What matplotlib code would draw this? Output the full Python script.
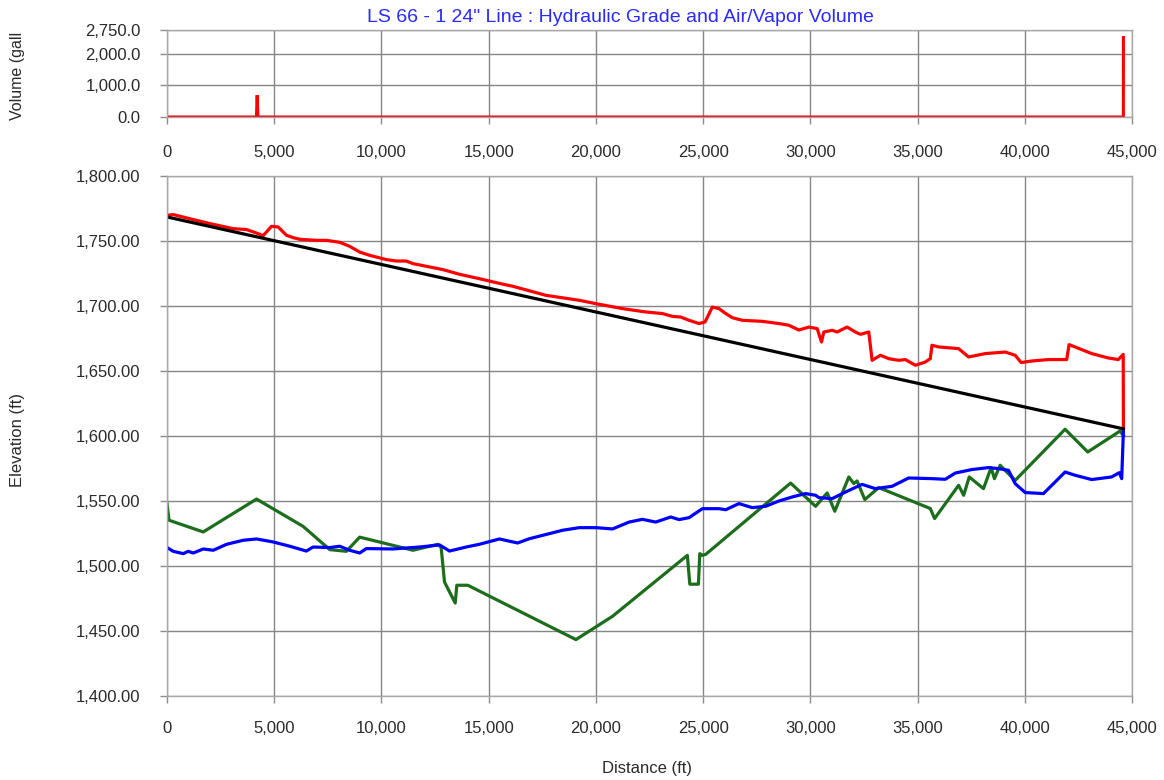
import matplotlib
matplotlib.use("Agg")
import matplotlib.pyplot as plt
from matplotlib.ticker import FuncFormatter

plt.rcParams['font.family'] = ['Liberation Sans', 'DejaVu Sans']

# Air/vapor volume along the pipe (gal)
vol_dist = [0, 4170, 4205, 4240, 44598, 44600]
vol_gal = [0, 0, 690, 0, 0, 2513]

# Maximum hydraulic grade (ft)
max_dist = [0, 295, 1224, 2002, 3086, 3710, 4329, 4480, 4873, 5183, 5572, 5880, 6191,
            6968, 7434, 8053, 8519, 8984, 9450, 10227, 10692, 11158, 11468, 12864, 13640,
            14570, 15470, 16120, 17675, 19225, 20000, 21240, 22330, 23100, 23570, 23960,
            24345, 24810, 25090, 25430, 25740, 26055, 26360, 26830, 27760, 28535, 29000,
            29465, 29930, 30320, 30520, 30630, 31015, 31250, 31715, 32100, 32340, 32725,
            32880, 33270, 33655, 34120, 34430, 34900, 35360, 35595, 35670, 35985, 36915,
            37380, 38160, 39090, 39555, 39830, 40330, 41100, 41955, 42065, 42345, 43120,
            43900, 44360, 44590, 44600]
max_hgl = [1769.8, 1770.3, 1766.5, 1763.4, 1759.5, 1758.8, 1755.2, 1754.0, 1761.3, 1760.8,
           1754.4, 1752.6, 1751.3, 1750.5, 1750.5, 1749.0, 1745.9, 1741.5, 1739.0, 1735.7,
           1734.6, 1734.6, 1732.6, 1728.0, 1724.4, 1721.0, 1717.5, 1715.2, 1708.2, 1704.4,
           1701.8, 1698.0, 1695.4, 1694.2, 1692.0, 1691.5, 1689.0, 1686.5, 1687.7, 1699.2,
           1698.0, 1694.2, 1691.0, 1689.0, 1688.2, 1686.5, 1685.2, 1681.5, 1683.8, 1682.6,
           1672.3, 1680.0, 1681.3, 1680.0, 1683.8, 1680.0, 1678.2, 1680.0, 1658.2, 1662.1,
           1659.5, 1658.2, 1658.8, 1654.4, 1656.9, 1659.5, 1669.8, 1668.5, 1667.2, 1660.8,
           1663.4, 1664.6, 1662.1, 1656.5, 1657.7, 1658.8, 1658.8, 1670.3, 1668.5, 1663.4,
           1660.0, 1658.8, 1662.8, 1605.5]

# Minimum hydraulic grade (ft)
min_dist = [0, 290, 760, 990, 1225, 1690, 2155, 2780, 3555, 4175, 4950, 5725, 6500, 6810,
            7590, 8050, 8520, 8985, 9295, 10535, 11775, 12710, 13175, 13950, 14570, 15500,
            16350, 16900, 18450, 19225, 20000, 20775, 21550, 22170, 22790, 23490, 23880,
            24345, 24965, 25740, 26055, 26670, 27290, 27910, 28535, 29155, 29775, 30245,
            30400, 31015, 31640, 32410, 33035, 33810, 34585, 35670, 36290, 36760, 37535,
            38310, 38775, 39240, 39555, 40020, 40870, 41415, 41880, 42345, 43120, 44050,
            44410, 44520, 44600]
min_hgl = [1514.2, 1511.3, 1509.5, 1511.3, 1510.0, 1513.1, 1512.1, 1516.7, 1519.8, 1520.8,
           1518.5, 1515.2, 1511.5, 1514.6, 1514.2, 1515.2, 1512.1, 1510.0, 1513.4, 1513.1,
           1514.6, 1516.2, 1511.5, 1514.6, 1516.7, 1520.8, 1517.7, 1521.0, 1527.5, 1529.5,
           1529.5, 1528.5, 1533.8, 1535.9, 1533.8, 1537.7, 1535.7, 1537.2, 1544.1, 1544.1,
           1543.3, 1548.0, 1544.9, 1545.9, 1550.0, 1553.1, 1555.7, 1554.4, 1552.6, 1551.8,
           1556.9, 1562.8, 1559.5, 1561.3, 1567.7, 1567.2, 1566.7, 1571.5, 1574.2, 1575.7,
           1574.9, 1573.6, 1563.3, 1556.5, 1555.7, 1564.6, 1572.3, 1569.8, 1566.5, 1568.5,
           1571.8, 1567.2, 1604.4]

# Pipe profile elevation (ft)
elev_dist = [0, 95, 1690, 4175, 6345, 7590, 8365, 8985, 11470, 12630, 12785, 12940, 13440,
             13515, 14025, 19070, 20775, 24265, 24380, 24780, 24845, 24970, 25125, 29080,
             30245, 30785, 31140, 31795, 32025, 32180, 32540, 33190, 35595, 35795, 36915,
             37150, 37410, 38075, 38430, 38585, 38850, 39160, 39555, 41880, 42935, 44440,
             44600]
elevation = [1548.0, 1535.2, 1526.2, 1551.5, 1530.5, 1512.6, 1511.3, 1522.2, 1512.1, 1516.7,
             1514.2, 1487.7, 1471.5, 1485.2, 1485.2, 1443.4, 1461.3, 1508.2, 1486.0, 1486.0,
             1509.5, 1508.2, 1509.0, 1563.8, 1545.9, 1556.2, 1542.1, 1568.5, 1563.4, 1565.4,
             1551.1, 1560.3, 1544.2, 1536.5, 1562.1, 1554.4, 1568.5, 1559.5, 1575.7, 1567.2,
             1577.5, 1572.3, 1565.9, 1605.2, 1587.7, 1603.8, 1600.3]

# Steady-state hydraulic grade (ft)
steady_dist = [0, 44600]
steady_hgl = [1768.5, 1605.5]

vol_ticks = [0, 1000, 2000, 2750]
elev_ticks = [1400, 1450, 1500, 1550, 1600, 1650, 1700, 1750, 1800]
dist_ticks = list(range(0, 45001, 5000))

W, H = 1164, 780
fig = plt.figure(figsize=(W / 100, H / 100), dpi=100)

def frac(left, top, right, bottom):
    return [left / W, 1 - bottom / H, (right - left) / W, (bottom - top) / H]

ax_v = fig.add_axes(frac(167, 30, 1132, 117))
ax_e = fig.add_axes(frac(167, 176, 1132, 696))

grid_kw = dict(color='#858585', linewidth=1.0)
tick_font = 12
lab_color = '#2a2a2a'

for ax in (ax_v, ax_e):
    ax.set_xlim(0, 45000)
    ax.set_xticks(dist_ticks)
    ax.xaxis.set_major_formatter(FuncFormatter(lambda v, p: f"{int(v):,}"))
    ax.grid(True, **grid_kw)
    ax.set_axisbelow(True)
    for s in ax.spines.values():
        s.set_color('#a8a8a8')
        s.set_linewidth(1.0)
    ax.tick_params(axis='both', labelsize=tick_font, colors='#8c8c8c',
                   labelcolor=lab_color, length=5, width=1, direction='out')

ax_v.set_ylim(0, 2750)
ax_v.set_yticks(vol_ticks)
ax_v.yaxis.set_major_formatter(FuncFormatter(lambda v, p: f"{v:,.1f}"))
ax_v.tick_params(axis='x', pad=15)
ax_v.tick_params(axis='y', pad=14)
ax_v.plot(vol_dist, vol_gal, color='#ff0000', linewidth=2.2, solid_joinstyle='miter')

ax_e.set_ylim(1400, 1800)
ax_e.set_yticks(elev_ticks)
ax_e.yaxis.set_major_formatter(FuncFormatter(lambda v, p: f"{v:,.2f}"))
ax_e.tick_params(axis='x', pad=13)
ax_e.tick_params(axis='y', pad=14)

lw = 2.3
ax_e.plot(elev_dist, elevation, color='#1c6e1c', linewidth=lw)
ax_e.plot(min_dist, min_hgl, color='#0000ff', linewidth=lw)
ax_e.plot(max_dist, max_hgl, color='#ff0000', linewidth=lw)
ax_e.plot(steady_dist, steady_hgl, color='#000000', linewidth=lw)

fig.text(620 / W, 1 - 17 / H, 'LS 66 - 1 24" Line : Hydraulic Grade and Air/Vapor Volume',
         color='#2a2aff', fontsize=14, ha='center', va='center')
fig.text(18 / W, 1 - 76 / H, 'Volume (gall', rotation=90, fontsize=11.5,
         color=lab_color, ha='center', va='center')
fig.text(18 / W, 1 - 440 / H, 'Elevation (ft)', rotation=90, fontsize=12,
         color=lab_color, ha='center', va='center')
fig.text(647 / W, 1 - 768 / H, 'Distance (ft)', fontsize=12,
         color=lab_color, ha='center', va='center')

fig.savefig('out.png', dpi=100, facecolor='white')
